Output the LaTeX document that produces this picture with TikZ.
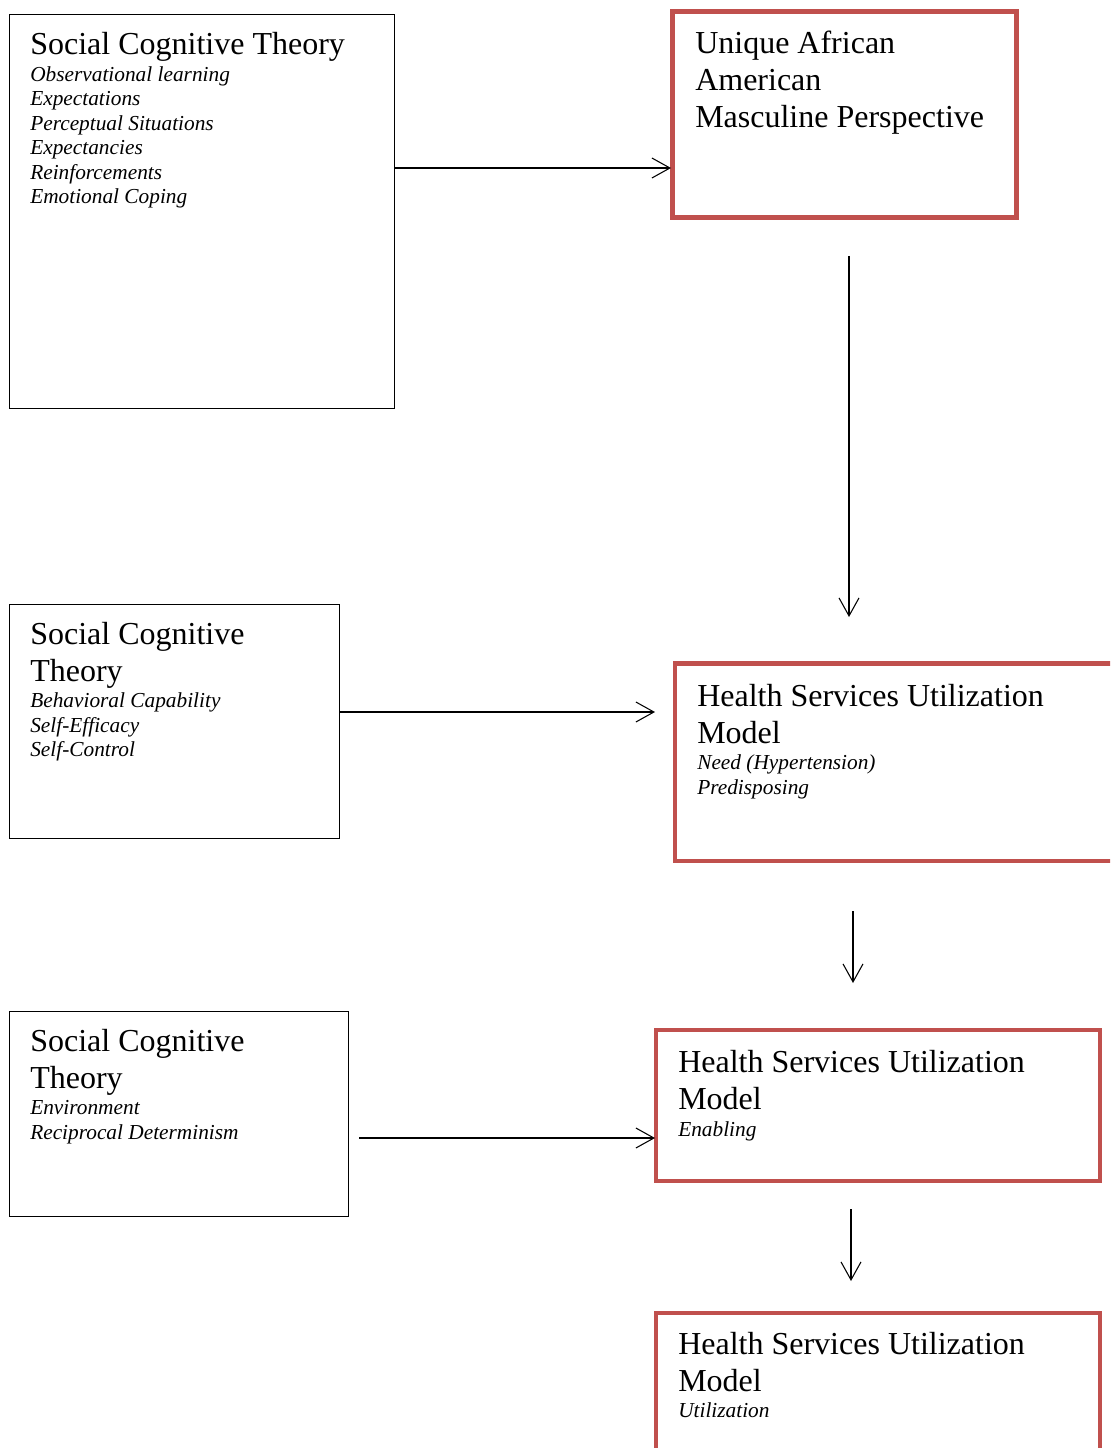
\documentclass[tikz,border=0pt]{standalone}
\usepackage{fontspec}
\setmainfont{Liberation Serif}
\usetikzlibrary{arrows.meta}
\definecolor{boxred}{HTML}{C0504D}
\begin{document}
\begin{tikzpicture}[x=0.75pt,y=-0.75pt,
  sz/.style 2 args={minimum width=#1*0.75pt, minimum height=#2*0.75pt},
  blackbox/.style={draw=black, line width=0.75pt, inner sep=0pt, outer sep=0pt, rectangle},
  redbox/.style={draw=boxred, line width=3.3pt, inner sep=0pt, outer sep=0pt, rectangle},
  ttl/.style={inner sep=0pt, anchor=base west, font=\fontsize{24}{27.6}\selectfont},
  itm/.style={inner sep=0pt, anchor=base west, font=\fontsize{16}{18.4}\selectfont\itshape},
  arr/.style={line width=0.8pt, -{Straight Barb[length=13.5pt,width=15pt,line width=0.8pt]}}]
\clip (0,0) rectangle (1110,1448);
\fill[white] (0,0) rectangle (1110,1448);

% boxes
\node[blackbox, sz={385}{393}] (s1) at (201.5,211.5) {};
\node[redbox, sz={344}{206}] (ua) at (844.5,114.5) {};
\node[blackbox, sz={330}{234}] (s2) at (174,721) {};
\node[redbox, sz={455}{197.5}] (h1) at (902.5,762.25) {};
\node[blackbox, sz={339}{205}] (s3) at (178.5,1113.5) {};
\node[redbox, sz={444}{151}] (h2) at (878,1105.5) {};
\node[redbox, sz={444}{167}] (h3) at (878,1396.5) {};

% texts: box 1
\node[ttl] (s1t) at (30,54.5) {Social Cognitive Theory};
\foreach \t [count=\i] in {Observational learning, Expectations, Perceptual Situations, Expectancies, Reinforcements, Emotional Coping}
  \node[itm] (s1i\i) at (30,{81.5+24.5*(\i-1)}) {\t};

% UAAMP
\node[ttl] (uat1) at (695,53.5) {Unique African};
\node[ttl] (uat2) at (695,90.5) {American};
\node[ttl] (uat3) at (695,127.5) {Masculine Perspective};

% box 2
\node[ttl] (s2t1) at (30,644.5) {Social Cognitive};
\node[ttl] (s2t2) at (30,681.5) {Theory};
\node[itm] (s2i1) at (30,707.5) {Behavioral Capability};
\node[itm] (s2i2) at (30,732) {Self-Efficacy};
\node[itm] (s2i3) at (30,756.5) {Self-Control};

% HSUM 1
\node[ttl] (h1t1) at (697,706) {Health Services Utilization};
\node[ttl] (h1t2) at (697,743) {Model};
\node[itm] (h1i1) at (697,769.5) {Need (Hypertension)};
\node[itm] (h1i2) at (697,794) {Predisposing};

% box 3
\node[ttl] (s3t1) at (30,1051) {Social Cognitive};
\node[ttl] (s3t2) at (30,1088) {Theory};
\node[itm] (s3i1) at (30,1114.5) {Environment};
\node[itm] (s3i2) at (30,1139) {Reciprocal Determinism};

% HSUM 2
\node[ttl] (h2t1) at (678,1072) {Health Services Utilization};
\node[ttl] (h2t2) at (678,1109) {Model};
\node[itm] (h2i1) at (678,1136) {Enabling};

% HSUM 3
\node[ttl] (h3t1) at (678,1354) {Health Services Utilization};
\node[ttl] (h3t2) at (678,1391) {Model};
\node[itm] (h3i1) at (678,1417.5) {Utilization};

% connector end points
\coordinate (a1s) at (394,168);
\coordinate (a1e) at (671,168);
\coordinate (a2s) at (339,712);
\coordinate (a2e) at (655,712);
\coordinate (a3s) at (359,1138);
\coordinate (a3e) at (655,1138);
\coordinate (v1s) at (849,256);
\coordinate (v1e) at (849,617);
\coordinate (v2s) at (853,911);
\coordinate (v2e) at (853,983);
\coordinate (v3s) at (851,1209);
\coordinate (v3e) at (851,1281);

\draw[arr] (a1s) -- (a1e);
\draw[arr] (a2s) -- (a2e);
\draw[arr] (a3s) -- (a3e);
\draw[arr] (v1s) -- (v1e);
\draw[arr] (v2s) -- (v2e);
\draw[arr] (v3s) -- (v3e);
\end{tikzpicture}
\end{document}
